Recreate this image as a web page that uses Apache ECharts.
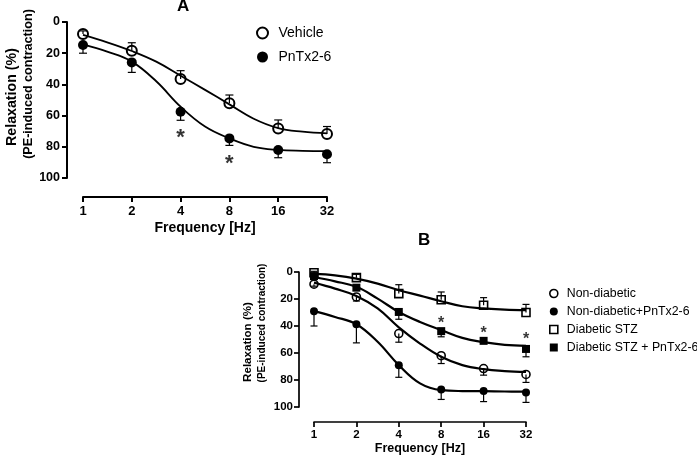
<!DOCTYPE html>
<html><head><meta charset="utf-8">
<script src="https://cdn.jsdelivr.net/npm/echarts@6/dist/echarts.min.js"></script>
<style>html,body{margin:0;padding:0;background:#fff}#c{width:697px;height:459px}</style>
</head><body><div id="c"></div>
<script>
// ---- data ----
const freqs = [1, 2, 4, 8, 16, 32];
const xTickLabels = ['1', '2', '4', '8', '16', '32'];
const curveFreqs = [1, 1.41, 2, 2.83, 4, 5.66, 8, 11.3, 16, 22.6, 32];

// Panel A
const vehicleMean = [7.7, 18.4, 36.5, 52.1, 68.2, 71.8];
const vehicleSem = [2, 5.1, 5.3, 5.3, 5.4, 4.8];
const vehicleCurve = [8.3, 13, 18.6, 25.4, 34.4, 43.5, 52.8, 62, 68, 70.3, 71.4];
const pnMean = [14.7, 25.9, 57.5, 74.6, 82.0, 84.8];
const pnSem = [5.3, 6.4, 5.5, 4.5, 5, 5.4];
const pnCurve = [14.3, 19, 25.4, 38, 54.3, 67, 74.6, 80, 82, 82.6, 82.8];
const starFreqA = [4, 8];
const starYA = [71.4, 87.8];

// Panel B
const ndMean = [9, 18.5, 45.6, 62, 71.5, 75.9];
const ndSem = [1.5, 3, 6.4, 5.8, 4.9, 5.9];
const ndCurve = [7.9, 12.3, 17.7, 27, 41, 53, 62.8, 69, 72, 73.4, 74];
const ndPnMean = [29, 38.7, 69, 87, 88.2, 89.2];
const ndPnSem = [11, 13.8, 9, 7.4, 7.8, 7.4];
const ndPnCurve = [29, 33.3, 38.7, 51.7, 69, 82.5, 87.5, 88.2, 88.3, 88.5, 88.6];
const stzMean = [0.5, 4.2, 16, 20.5, 24.6, 30];
const stzSem = [1, 2.5, 6.6, 5.7, 5.6, 6];
const stzCurve = [1.2, 2.5, 4.9, 8.6, 13.5, 17.5, 21.7, 25.4, 27, 27.8, 28.3];
const stzPnMean = [3, 11.6, 29.6, 43.8, 51, 57];
const stzPnSem = [1, 2, 5.4, 4.2, 1.5, 5.8];
const stzPnCurve = [3.7, 6.9, 11, 19.7, 29.6, 37, 43, 48.8, 52, 54, 54.7];
const starFreqB = [8, 16, 32];
const starYB = [35, 42.6, 47.3];

const yTicks = [0, 20, 40, 60, 80, 100];
// ---- end data ----

const FONT = "'Liberation Sans', Arial, sans-serif";
const zip = (xs, ys) => xs.map((x, i) => [x, ys[i]]);
const errData = (means, sems, dir) => freqs.map((f, i) => [f, means[i], means[i] + dir * sems[i]]);

function errSeries(grid, means, sems, dir, cap, lw) {
  return {
    type: 'custom', xAxisIndex: grid, yAxisIndex: grid, z: 2, silent: true,
    data: errData(means, sems, dir),
    encode: { x: 0, y: [1, 2] },
    renderItem: function (params, api) {
      const p = api.coord([api.value(0), api.value(1)]);
      const e = api.coord([api.value(0), api.value(2)]);
      const st = { stroke: '#000', lineWidth: lw };
      return { type: 'group', children: [
        { type: 'line', shape: { x1: p[0], y1: p[1], x2: e[0], y2: e[1] }, style: st },
        { type: 'line', shape: { x1: e[0] - cap, y1: e[1], x2: e[0] + cap, y2: e[1] }, style: st }
      ] };
    }
  };
}
function markerSeries(grid, name, means, symbol, filled, size, bw) {
  return {
    type: 'scatter', name: name, xAxisIndex: grid, yAxisIndex: grid, z: 4,
    symbol: symbol, symbolSize: size, data: zip(freqs, means),
    itemStyle: filled ? { color: '#000', borderColor: '#000', borderWidth: 0, opacity: 1 }
                      : { color: 'rgba(0,0,0,0)', borderColor: '#000', borderWidth: bw, opacity: 1 }
  };
}
function curveSeries(grid, ys, lw) {
  return {
    type: 'line', xAxisIndex: grid, yAxisIndex: grid, z: 3, silent: true,
    data: zip(curveFreqs, ys), showSymbol: false, symbol: 'none', smooth: 0.4,
    lineStyle: { color: '#000', width: lw }
  };
}
function starSeries(grid, xs, ys, fs, dy) {
  return {
    type: 'scatter', xAxisIndex: grid, yAxisIndex: grid, z: 5, silent: true,
    symbolSize: 0, data: zip(xs, ys),
    label: { show: true, position: 'inside', formatter: '*', offset: [0, dy],
      fontSize: fs, fontWeight: 'bold', color: '#000', fontFamily: FONT }
  };
}
function xAxisCfg(grid, offset, lw, fs, margin, nameFs, nameGap) {
  return {
    type: 'log', logBase: 2, min: 1, max: 32, gridIndex: grid, offset: offset,
    axisLine: { show: true, onZero: false, lineStyle: { color: '#000', width: lw } },
    axisTick: { show: true, inside: false, length: 5, lineStyle: { color: '#000', width: lw } },
    minorTick: { show: false }, splitLine: { show: false }, minorSplitLine: { show: false },
    axisLabel: { color: '#000', fontWeight: 'bold', fontSize: fs, fontFamily: FONT, margin: margin,
      formatter: v => { const i = freqs.indexOf(Math.round(v)); return i >= 0 ? xTickLabels[i] : ''; } },
    name: 'Frequency [Hz]', nameLocation: 'middle', nameGap: nameGap,
    nameTextStyle: { color: '#000', fontWeight: 'bold', fontSize: nameFs, fontFamily: FONT }
  };
}
function yAxisCfg(grid, offset, lw, fs, margin) {
  return {
    type: 'value', inverse: true, min: 0, max: 100, interval: 20, gridIndex: grid, offset: offset,
    axisLine: { show: true, onZero: false, lineStyle: { color: '#000', width: lw } },
    axisTick: { show: true, inside: false, length: 5, lineStyle: { color: '#000', width: lw } },
    splitLine: { show: false },
    axisLabel: { color: '#000', fontWeight: 'bold', fontSize: fs, fontFamily: FONT, margin: margin,
      formatter: v => String(yTicks[yTicks.indexOf(v)]) }
  };
}

const chart = echarts.init(document.getElementById('c'), null, { renderer: 'canvas' });
chart.setOption({
  animation: false,
  backgroundColor: '#fff',
  textStyle: { fontFamily: FONT },
  title: [
    { text: 'A', left: 177, top: -2, padding: 0, textStyle: { fontSize: 17, fontWeight: 'bold', color: '#000', fontFamily: FONT } },
    { text: 'B', left: 418, top: 232, padding: 0, textStyle: { fontSize: 17, fontWeight: 'bold', color: '#000', fontFamily: FONT } }
  ],
  grid: [
    { left: 83, top: 22, width: 244, height: 156 },
    { left: 314, top: 272, width: 212, height: 135 }
  ],
  xAxis: [xAxisCfg(0, 19, 2, 13, 8, 14, 24), xAxisCfg(1, 15, 1.7, 11.5, 7, 12.5, 20)],
  yAxis: [yAxisCfg(0, 16, 2, 12.5, 7), yAxisCfg(1, 15, 1.7, 11.5, 6)],
  legend: [
    { orient: 'vertical', left: 256, top: 26, padding: 0, itemWidth: 22, itemHeight: 11, itemGap: 10,
      textStyle: { fontSize: 14, color: '#000', fontFamily: FONT, lineHeight: 14 },
      data: [
        { name: 'Vehicle', icon: 'circle', itemStyle: { color: 'rgba(0,0,0,0)', borderColor: '#000', borderWidth: 2 } },
        { name: 'PnTx2-6', icon: 'circle', itemStyle: { color: '#000' } }
      ] },
    { orient: 'vertical', left: 549, top: 287, padding: 0, itemWidth: 8, itemHeight: 8, itemGap: 5,
      textStyle: { fontSize: 12.3, color: '#000', fontFamily: FONT, lineHeight: 13, padding: [0, 0, 0, 4] },
      data: [
        { name: 'Non-diabetic', icon: 'circle', itemStyle: { color: 'rgba(0,0,0,0)', borderColor: '#000', borderWidth: 1.6 } },
        { name: 'Non-diabetic+PnTx2-6', icon: 'circle', itemStyle: { color: '#000' } },
        { name: 'Diabetic STZ', icon: 'rect', itemStyle: { color: 'rgba(0,0,0,0)', borderColor: '#000', borderWidth: 1.6 } },
        { name: 'Diabetic STZ + PnTx2-6', icon: 'rect', itemStyle: { color: '#000' } }
      ] }
  ],
  graphic: [
    { type: 'text', x: 12, y: 97, rotation: Math.PI / 2, style: { text: 'Relaxation (%)', fontSize: 14.2, fontWeight: 'bold', fontFamily: FONT, fill: '#000', align: 'center', verticalAlign: 'middle' } },
    { type: 'text', x: 29, y: 84, rotation: Math.PI / 2, style: { text: '(PE-induced contraction)', fontSize: 12.6, fontWeight: 'bold', fontFamily: FONT, fill: '#000', align: 'center', verticalAlign: 'middle' } },
    { type: 'text', x: 248, y: 342, rotation: Math.PI / 2, style: { text: 'Relaxation (%)', fontSize: 11.6, fontWeight: 'bold', fontFamily: FONT, fill: '#000', align: 'center', verticalAlign: 'middle' } },
    { type: 'text', x: 262, y: 323, rotation: Math.PI / 2, style: { text: '(PE-induced contraction)', fontSize: 10, fontWeight: 'bold', fontFamily: FONT, fill: '#000', align: 'center', verticalAlign: 'middle' } }
  ],
  series: [
    // Panel A
    curveSeries(0, vehicleCurve, 1.8),
    curveSeries(0, pnCurve, 1.8),
    errSeries(0, vehicleMean, vehicleSem, -1, 4, 1.2),
    errSeries(0, pnMean, pnSem, 1, 4, 1.2),
    markerSeries(0, 'Vehicle', vehicleMean, 'circle', false, 10, 2),
    markerSeries(0, 'PnTx2-6', pnMean, 'circle', true, 10, 0),
    starSeries(0, starFreqA, starYA, 22, 5),
    // Panel B
    curveSeries(1, ndCurve, 2.2),
    curveSeries(1, ndPnCurve, 2.2),
    curveSeries(1, stzCurve, 2.2),
    curveSeries(1, stzPnCurve, 2.2),
    errSeries(1, ndMean, ndSem, 1, 3.5, 1.2),
    errSeries(1, ndPnMean, ndPnSem, 1, 3.5, 1.2),
    errSeries(1, stzMean, stzSem, -1, 3.5, 1.2),
    errSeries(1, stzPnMean, stzPnSem, 1, 3.5, 1.2),
    markerSeries(1, 'Non-diabetic', ndMean, 'circle', false, 8, 1.6),
    markerSeries(1, 'Non-diabetic+PnTx2-6', ndPnMean, 'circle', true, 8, 0),
    markerSeries(1, 'Diabetic STZ', stzMean, 'rect', false, 8, 1.6),
    markerSeries(1, 'Diabetic STZ + PnTx2-6', stzPnMean, 'rect', true, 8, 0),
    starSeries(1, starFreqB, starYB, 16, 4)
  ]
});
</script></body></html>
